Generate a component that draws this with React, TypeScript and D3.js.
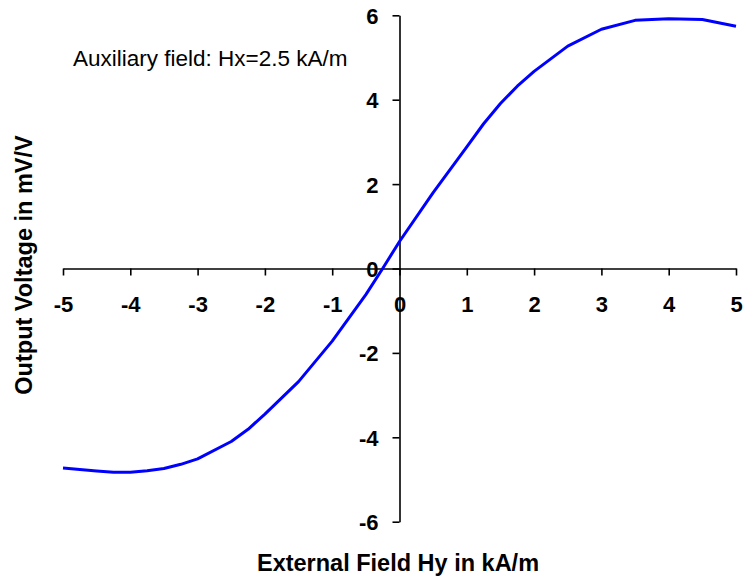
import { useEffect, useRef } from 'react';
import * as d3 from 'd3';

// External field Hy (kA/m) vs output voltage (mV/V)
const fieldHy = [-5, -4.5, -4.25, -4, -3.75, -3.5, -3.25, -3, -2.5, -2.25, -2, -1.5, -1, -0.5, -0.25, 0, 0.5, 1, 1.25, 1.5, 1.75, 2, 2.5, 3, 3.5, 4, 4.5, 5];
const outputVoltage = [-4.73, -4.8, -4.83, -4.83, -4.79, -4.74, -4.64, -4.51, -4.1, -3.81, -3.45, -2.68, -1.72, -0.62, 0, 0.64, 1.8, 2.88, 3.43, 3.91, 4.32, 4.67, 5.27, 5.67, 5.88, 5.92, 5.9, 5.74];
const xTicks = [-5, -4, -3, -2, -1, 0, 1, 2, 3, 4, 5];
const yTicks = [-6, -4, -2, 0, 2, 4, 6];

const WIDTH = 752;
const HEIGHT = 579;
const FONT = '"Liberation Sans", Arial, sans-serif';

const App = () => {
  const svgRef = useRef<SVGSVGElement>(null);

  useEffect(() => {
    if (!svgRef.current) return;
    const svg = d3.select(svgRef.current);
    svg.selectAll('*').remove();

    const x = d3.scaleLinear().domain([-5, 5]).range([63, 736]);
    const y = d3.scaleLinear().domain([-6, 6]).range([521.7, 15.3]);

    // x axis along y = 0
    const xAxis = svg.append('g')
      .attr('transform', `translate(0,${y(0)})`)
      .call(d3.axisBottom(x).tickValues(xTicks).tickSize(7).tickSizeOuter(0));
    xAxis.select('.domain').attr('stroke', '#000').attr('stroke-width', 1.6);
    xAxis.selectAll('.tick line').attr('stroke', '#000').attr('stroke-width', 1.6);
    xAxis.selectAll('.tick text')
      .attr('y', 0)
      .attr('dy', 0)
      .attr('transform', 'translate(0,43.5)')
      .attr('fill', '#000')
      .style('font-family', FONT)
      .style('font-weight', 'bold')
      .style('font-size', '22px')
      .text(d => String(d));

    // y axis along x = 0
    const yAxis = svg.append('g')
      .attr('transform', `translate(${x(0)},0)`)
      .call(d3.axisLeft(y).tickValues(yTicks).tickSize(7).tickSizeOuter(0));
    yAxis.select('.domain').attr('stroke', '#000').attr('stroke-width', 1.6);
    yAxis.selectAll('.tick line').attr('stroke', '#000').attr('stroke-width', 1.6);
    yAxis.selectAll('.tick text')
      .attr('x', -21)
      .attr('dy', '0.36em')
      .attr('fill', '#000')
      .style('font-family', FONT)
      .style('font-weight', 'bold')
      .style('font-size', '22px')
      .text(d => String(d));

    // data line
    const pts = fieldHy.map((h, i) => [h, outputVoltage[i]] as [number, number]);
    const line = d3.line<[number, number]>()
      .x(d => x(d[0]))
      .y(d => y(d[1]));
    svg.append('path')
      .datum(pts)
      .attr('d', line)
      .attr('fill', 'none')
      .attr('stroke', '#0000ff')
      .attr('stroke-width', 3)
      .attr('stroke-linejoin', 'round');

    // axis titles
    svg.append('text')
      .attr('x', 398)
      .attr('y', 571)
      .attr('text-anchor', 'middle')
      .style('font-family', FONT)
      .style('font-weight', 'bold')
      .style('font-size', '23.5px')
      .text('External Field Hy in kA/m');

    svg.append('text')
      .attr('transform', 'translate(32,265) rotate(-90)')
      .attr('text-anchor', 'middle')
      .style('font-family', FONT)
      .style('font-weight', 'bold')
      .style('font-size', '23.5px')
      .text('Output Voltage in mV/V');

    // annotation
    svg.append('text')
      .attr('x', 73)
      .attr('y', 66)
      .style('font-family', FONT)
      .style('font-size', '22.5px')
      .text('Auxiliary field: Hx=2.5 kA/m');
  }, []);

  return (
    <svg
      ref={svgRef}
      width={WIDTH}
      height={HEIGHT}
      style={{ position: 'absolute', left: 0, top: 0, background: '#fff' }}
    />
  );
};

export default App;
